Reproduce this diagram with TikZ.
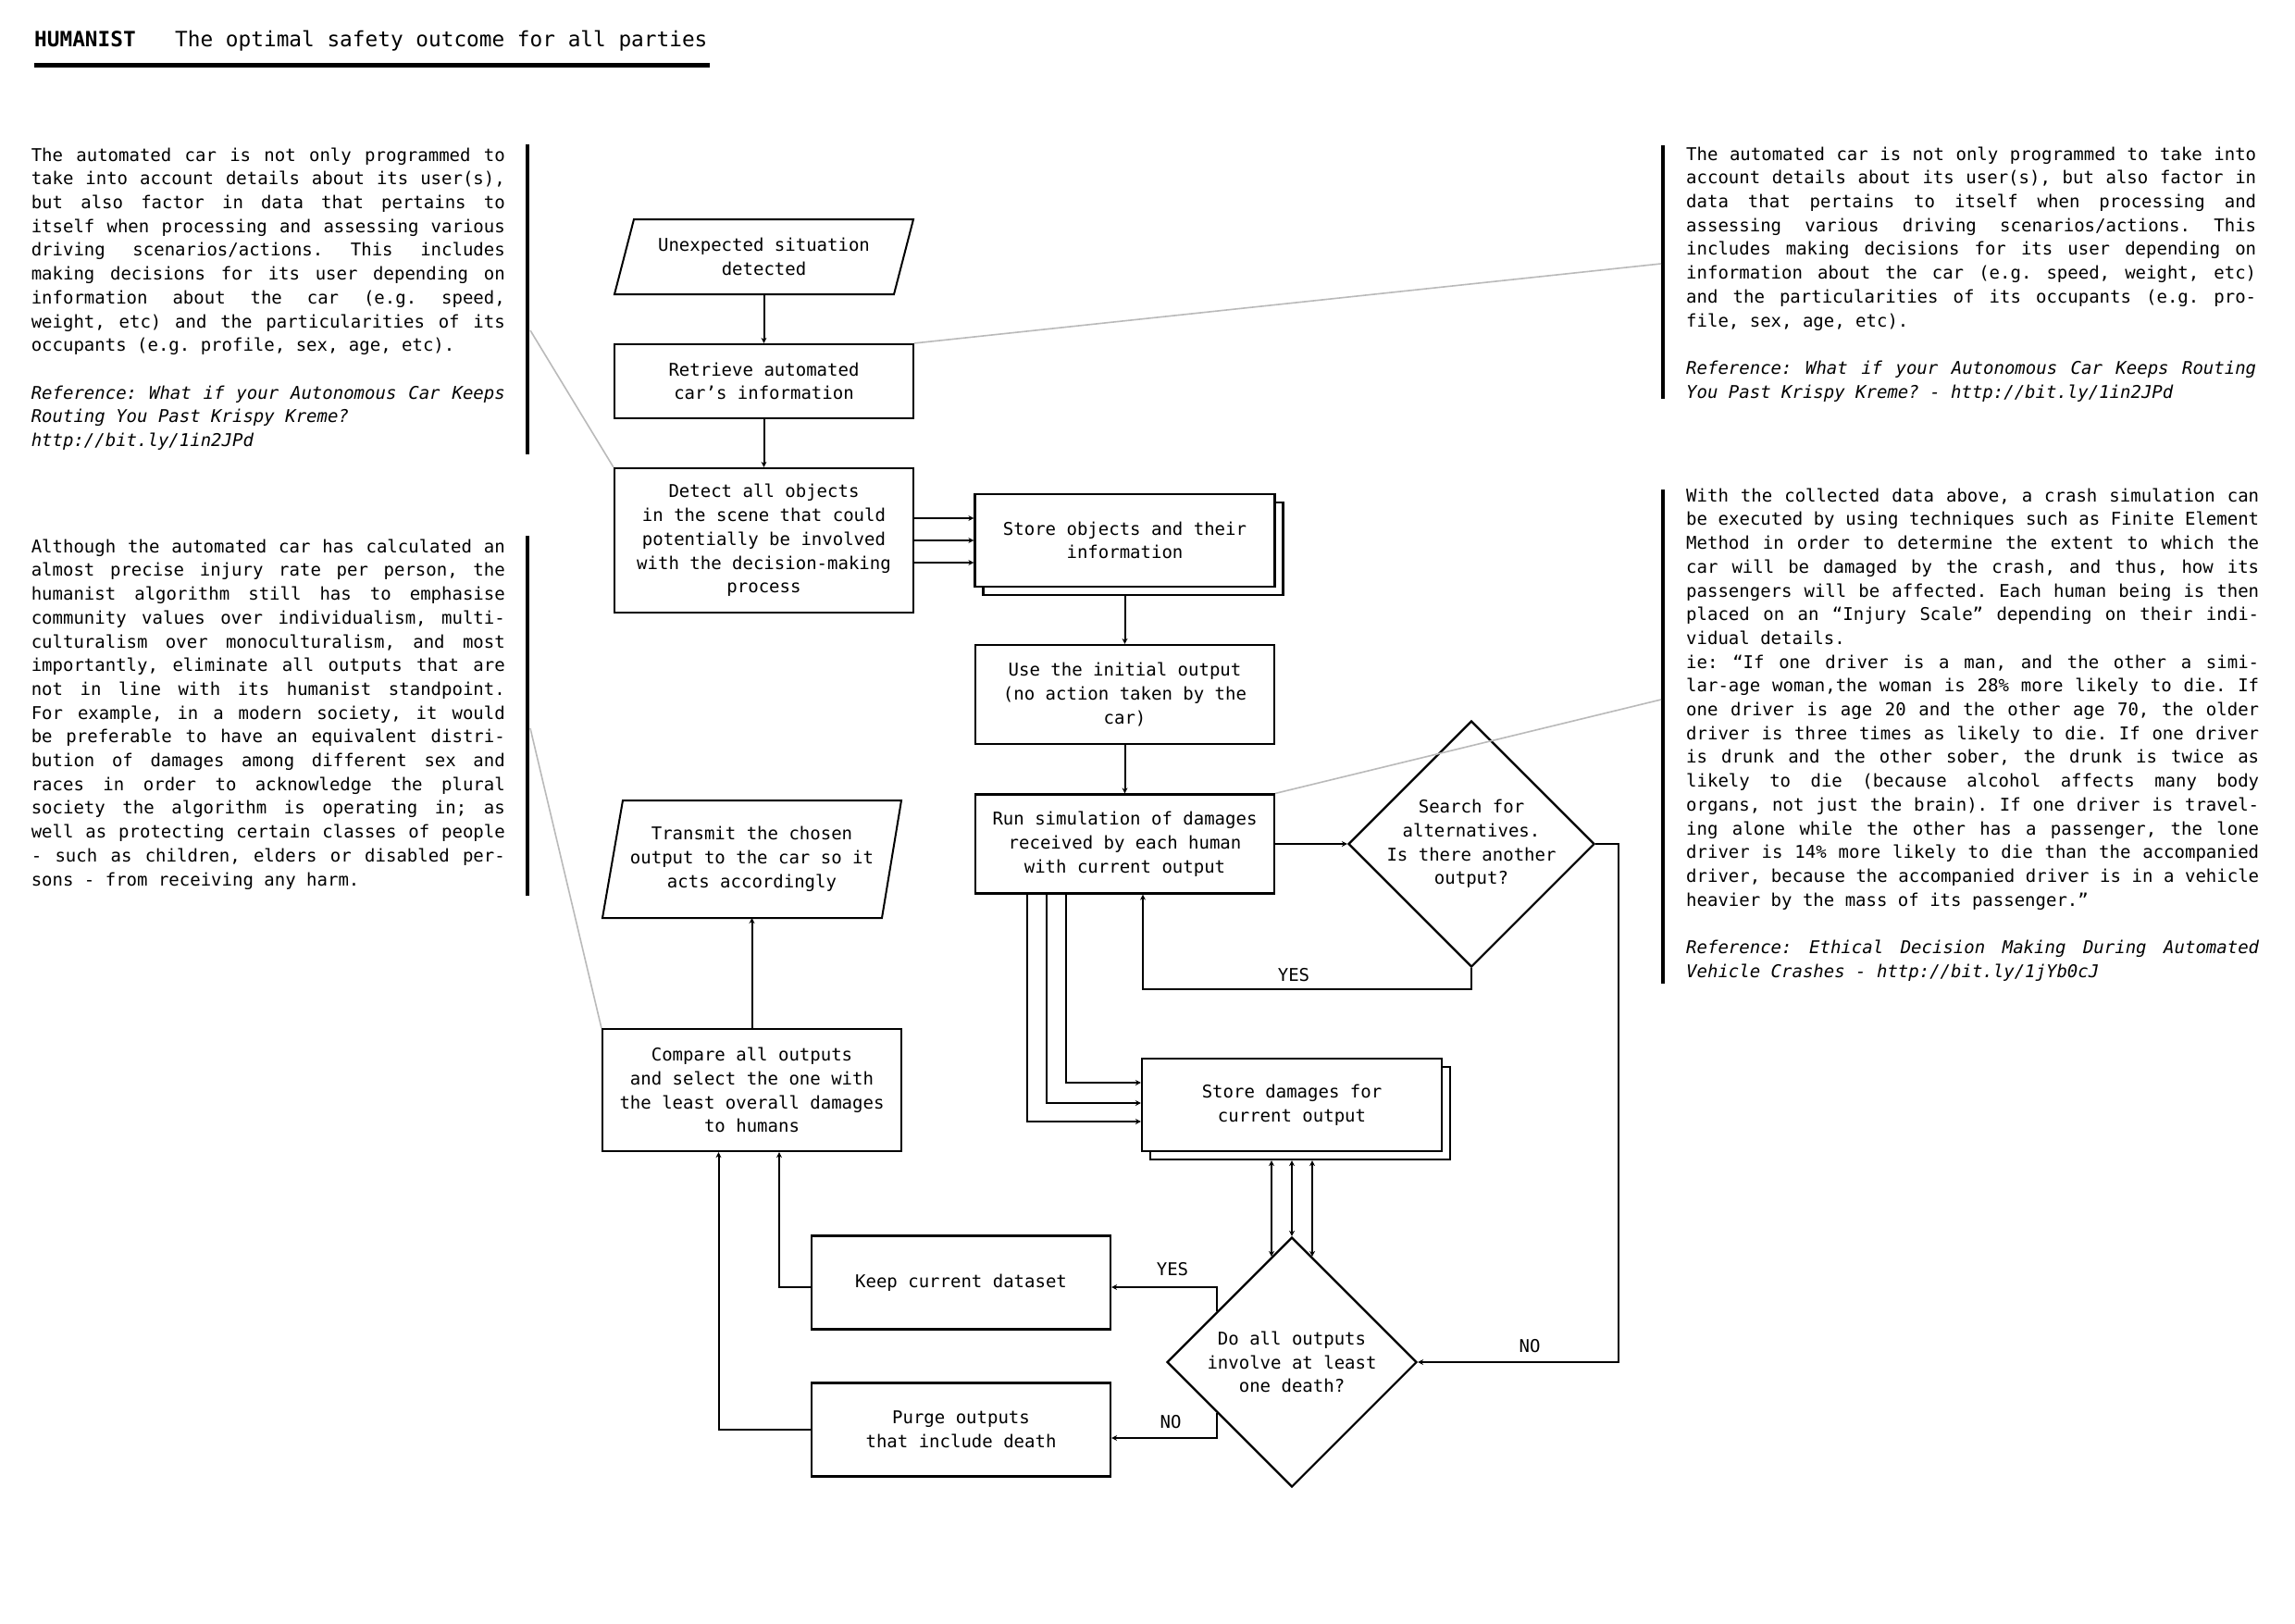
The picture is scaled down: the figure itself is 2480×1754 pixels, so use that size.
\documentclass[tikz,border=0pt]{standalone}
\usepackage{fontspec}
\usetikzlibrary{shapes.geometric}
\usetikzlibrary{arrows.meta}
\usetikzlibrary{shadows}
\newfontfamily\monofont{DejaVu Sans Mono}
\newcommand\txtfont{\monofont\fontsize{19pt}{25.7pt}\selectfont}
\newcommand\ttlfont{\monofont\fontsize{22.75pt}{28pt}\selectfont}
\newcommand\blocktext{\txtfont\frenchspacing\parindent=0pt
  \spaceskip=\fontdimen2\font plus 2\fontdimen2\font\relax
  \tolerance=10000 \hyphenpenalty=10000 \exhyphenpenalty=10000 }
\tikzset{
  flow/.style={line width=2pt},
  arr/.style={flow, ->},
  box/.style={draw, line width=2.2pt, fill=white, minimum width=323pt, inner sep=0pt, align=center, font=\txtfont},
  stack/.style={box, minimum width=324pt, copy shadow={shadow xshift=9pt, shadow yshift=-9pt, draw=black, fill=white, line width=2.2pt}},
  io/.style={inner sep=0pt, outer sep=0pt, minimum width=323pt, align=center, font=\txtfont},
  dec/.style={diamond, draw, line width=2.2pt, aspect=1, inner sep=0pt, align=center, font=\txtfont},
  blk/.style={anchor=north west, inner sep=0pt, align=justify, font=\blocktext},
  lbl/.style={inner sep=0pt, font=\txtfont},
  bar/.style={line width=4pt},
  lead/.style={draw=black!27, line width=1.6pt},
  >={Stealth[length=6pt,width=6pt]}
}
\begin{document}
\begin{tikzpicture}[x=1pt,y=-1pt]
\path[use as bounding box, fill=white] (0,0) rectangle (2480,1754);

\node[anchor=base west, inner sep=0pt, font=\ttlfont\bfseries] (hum) at (37,50) {HUMANIST};
\node[anchor=base west, inner sep=0pt, font=\ttlfont] (sub) at (189,50) {The optimal safety outcome for all parties};
\draw[line width=5pt] (37,70.5) -- (767,70.5);

\node[blk, text width=512pt] (lt1) at (33.6,156) {\strut The automated car is not only programmed to\linebreak
take into account details about its user(s),\linebreak
but also factor in data that pertains to\linebreak
itself when processing and assessing various\linebreak
driving scenarios/actions. This includes\linebreak
making decisions for its user depending on\linebreak
information about the car (e.g. speed,\linebreak
weight, etc) and the particularities of its\linebreak
occupants (e.g. profile, sex, age, etc).\par
\vskip\baselineskip
\itshape Reference: What if your Autonomous Car Keeps\linebreak
Routing You Past Krispy Kreme?\\
http://bit.ly/1in2JPd};
\node[blk, text width=512pt] (lt2) at (33.6,579) {\strut Although the automated car has calculated an\linebreak
almost precise injury rate per person, the\linebreak
humanist algorithm still has to emphasise\linebreak
community values over individualism, multi-\linebreak
culturalism over monoculturalism, and most\linebreak
importantly, eliminate all outputs that are\linebreak
not in line with its humanist standpoint.\linebreak
For example, in a modern society, it would\linebreak
be preferable to have an equivalent distri-\linebreak
bution of damages among different sex and\linebreak
races in order to acknowledge the plural\linebreak
society the algorithm is operating in; as\linebreak
well as protecting certain classes of people\linebreak
- such as children, elders or disabled per-\linebreak
sons - from receiving any harm.};
\node[blk, text width=616pt] (rt1) at (1822,155) {\strut The automated car is not only programmed to take into\linebreak
account details about its user(s), but also factor in\linebreak
data that pertains to itself when processing and\linebreak
assessing various driving scenarios/actions. This\linebreak
includes making decisions for its user depending on\linebreak
information about the car (e.g. speed, weight, etc)\linebreak
and the particularities of its occupants (e.g. pro-\linebreak
file, sex, age, etc).\par
\vskip\baselineskip
\itshape Reference: What if your Autonomous Car Keeps Routing\linebreak
You Past Krispy Kreme? - http://bit.ly/1in2JPd};
\node[blk, text width=619pt] (rt2) at (1822,524) {\strut With the collected data above, a crash simulation can\linebreak
be executed by using techniques such as Finite Element\linebreak
Method in order to determine the extent to which the\linebreak
car will be damaged by the crash, and thus, how its\linebreak
passengers will be affected. Each human being is then\linebreak
placed on an “Injury Scale” depending on their indi-\linebreak
vidual details.\\
ie: “If one driver is a man, and the other a simi-\linebreak
lar-age woman,the woman is 28\% more likely to die. If\linebreak
one driver is age 20 and the other age 70, the older\linebreak
driver is three times as likely to die. If one driver\linebreak
is drunk and the other sober, the drunk is twice as\linebreak
likely to die (because alcohol affects many body\linebreak
organs, not just the brain). If one driver is travel-\linebreak
ing alone while the other has a passenger, the lone\linebreak
driver is 14\% more likely to die than the accompanied\linebreak
driver, because the accompanied driver is in a vehicle\linebreak
heavier by the mass of its passenger.”\par
\vskip\baselineskip
\itshape Reference: Ethical Decision Making During Automated\linebreak
Vehicle Crashes - http://bit.ly/1jYb0cJ};

\draw[bar] (570,156) -- (570,491);
\draw[bar] (570,579) -- (570,968);
\draw[bar] (1797,157) -- (1797,431);
\draw[bar] (1797,529) -- (1797,1063);
\coordinate (lb1) at (573,357);
\coordinate (lb2) at (573,787);
\coordinate (rb1) at (1795,285);
\coordinate (rb2) at (1795,756);

\node[io, minimum height=81pt] (un) at (825.5,277.5) {Unexpected situation\\detected};
\draw[flow] ([xshift=21pt]un.north west) -- (un.north east) -- ([xshift=-21pt]un.south east) -- (un.south west) -- cycle;
\node[box, minimum height=80pt] (ret) at (825.5,412) {Retrieve automated\\car’s information};
\node[box, minimum height=156pt] (det) at (825.5,584) {Detect all objects\\in the scene that could\\potentially be involved\\with the decision-making\\process};
\node[stack, minimum height=100pt] (sto) at (1215.5,584) {Store objects and their\\information};
\node[box, minimum height=107pt] (use) at (1215.5,750.5) {Use the initial output\\(no action taken by the\\car)};
\node[box, minimum height=107pt] (run) at (1215.5,912) {Run simulation of damages\\received by each human\\with current output};
\node[dec, minimum size=266pt, inner sep=-10pt] (srch) at (1590,912) {Search for\\alternatives.\\Is there another\\output?};
\node[stack, minimum height=100pt] (dmg) at (1396,1194) {Store damages for\\current output};
\node[dec, minimum size=270pt] (dth) at (1396,1472) {Do all outputs\\involve at least\\one death?};
\node[box, minimum height=101pt] (keep) at (1038.5,1386) {Keep current dataset};
\node[box, minimum height=101pt] (prg) at (1038.5,1545) {Purge outputs\\that include death};
\node[box, minimum height=132pt] (cmp) at (812.5,1178) {Compare all outputs\\and select the one with\\the least overall damages\\to humans};
\node[io, minimum height=127pt] (tr) at (812.5,928.5) {Transmit the chosen\\output to the car so it\\acts accordingly};
\draw[flow] ([xshift=22pt]tr.north west) -- (tr.north east) -- ([xshift=-21pt]tr.south east) -- (tr.south west) -- cycle;

\draw[lead] (lb1) -- (det.north west);
\draw[lead] (lb2) -- (cmp.north west);
\draw[lead] (rb1) -- (ret.north east);
\draw[lead] (rb2) -- (run.north east);

\draw[arr] (un.south) -- (ret.north);
\draw[arr] (ret.south) -- (det.north);
\foreach \dy in {24,0,-24}
  \draw[arr] ([yshift=\dy pt]det.east) -- ([yshift=\dy pt]sto.west);
\draw[arr] ([yshift=-9pt]sto.south) -- (use.north);
\draw[arr] (use.south) -- (run.north);
\draw[arr] (run.east) -- (srch.west);
\draw[arr] (srch.south) -- ++(0,23) -| ([xshift=19.5pt]run.south);
\draw[arr] (srch.east) -- ++(25,0) |- (dth.east);
\foreach \dx/\dy in {57/-18,78/2,99/24}
  \draw[arr] ([xshift=\dx pt]run.south west) |- ([yshift=\dy pt]dmg.west);
\foreach \dx/\dy in {-22/-22,0/0,22/-22}
  \draw[flow, <->] ([xshift=\dx pt, yshift=-9pt]dmg.south) -- ([xshift=\dx pt, yshift=\dy pt]dth.north);
\draw[arr] ([xshift=-81pt, yshift=-81pt]dth.north) |- ([yshift=-5pt]keep.east);
\draw[arr] ([xshift=-81pt, yshift=81pt]dth.south) |- ([yshift=-9pt]prg.east);
\draw[arr] ([yshift=-5pt]keep.west) -| ([xshift=29.5pt]cmp.south);
\draw[arr] (prg.west) -| ([xshift=-36pt]cmp.south);
\draw[arr] (cmp.north) -- (tr.south);

\node[lbl] (yes1) at (1398,1054) {YES};
\node[lbl] (yes2) at (1267,1372) {YES};
\node[lbl] (no1) at (1653,1455) {NO};
\node[lbl] (no2) at (1265,1537) {NO};
\end{tikzpicture}
\end{document}
